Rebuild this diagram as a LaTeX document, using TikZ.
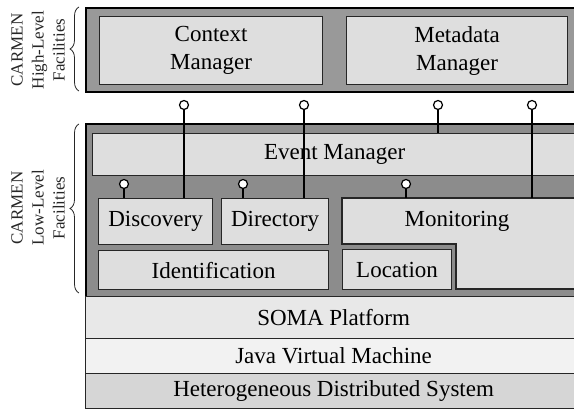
\documentclass[tikz,border=0pt]{standalone}
\usepackage{fontspec}
\setmainfont{Liberation Serif}
\usetikzlibrary{decorations.pathreplacing}

\definecolor{hiband}{gray}{0.60}
\definecolor{loband}{gray}{0.55}
\definecolor{boxfill}{gray}{0.87}
\definecolor{somafill}{gray}{0.91}
\definecolor{jvmfill}{gray}{0.95}
\definecolor{hdsfill}{gray}{0.84}
\definecolor{edge}{gray}{0.15}

\begin{document}
\begin{tikzpicture}[x=1pt,y=-1pt,
  band/.style={draw=black, line width=1.6pt, anchor=north west, inner sep=0pt},
  box/.style={draw=edge, line width=1.2pt, fill=boxfill, anchor=north west,
    inner sep=0pt, align=center, font={\fontsize{23}{28}\selectfont}},
  layer/.style={box, minimum width=496pt},
  lolli/.style={circle, draw=black, fill=white, line width=1.2pt,
    minimum size=9pt, inner sep=0pt},
  wire/.style={draw=black, line width=1.2pt},
  grp/.style={draw=black!85, line width=0.8pt,
    decoration={brace, amplitude=9pt}, decorate},
  grplabel/.style={rotate=90, align=center, text=black!85,
    font={\fontsize{17}{21}\selectfont}}
]
\useasboundingbox (0,0) rectangle (574,411);
\clip (0,0) rectangle (574,411);

% high-level facilities
\node[band, fill=hiband, minimum width=496pt, minimum height=84pt] (hi) at (85,7) {};
\node[box, minimum width=223pt, minimum height=68pt] (ctx) at (99,16) {Context\\Manager};
\node[box, minimum width=221pt, minimum height=68pt] (meta) at (346,16) {Metadata\\Manager};

% low-level facilities
\node[band, fill=loband, minimum width=496pt, minimum height=173pt] (lo) at (85,123) {};
\node[box, minimum width=484pt, minimum height=42pt] (evt) at (92,133) {Event Manager};
\node[box, minimum width=114pt, minimum height=46pt] (disc) at (98,198) {Discovery};
\node[box, minimum width=107pt, minimum height=46pt] (dir) at (221,198) {Directory};
\node[box, minimum width=230pt, minimum height=39pt] (ident) at (98,250) {Identification};
\node[box, minimum width=109pt, minimum height=40pt] (loc) at (342,249) {Location};

% monitoring wraps around location
\draw[draw=edge, line width=1.2pt, fill=boxfill]
  (342,198) -- (577,198) -- (577,289) -- (456,289) -- (456,244) -- (342,244) -- cycle;
\coordinate (mon) at (457,198);
\node[font={\fontsize{23}{28}\selectfont}, inner sep=0pt] (montext) at (457,221) {Monitoring};

% platform layers
\node[layer, fill=somafill, minimum height=42pt] (soma) at (85,296) {SOMA Platform};
\node[layer, fill=jvmfill, minimum height=35pt] (jvm) at (85,338) {Java Virtual Machine};
\node[layer, fill=hdsfill, minimum height=35pt] (hds) at (85,373) {Heterogeneous Distributed System};

% interfaces offered to the high-level facilities
\node[lolli] (i1) at (184,105) {};
\node[lolli] (i2) at (304,105) {};
\node[lolli] (i3) at (438,105) {};
\node[lolli] (i4) at (532,105) {};
\path[wire] (i1) -- (i1 |- disc.north);
\path[wire] (i2) -- (i2 |- dir.north);
\path[wire] (i3) -- (i3 |- evt.north);
\path[wire] (i4) -- (i4 |- mon);

% interfaces offered to the event manager
\node[lolli] (j1) at (124,184) {};
\node[lolli] (j2) at (243,184) {};
\node[lolli] (j3) at (406,184) {};
\path[wire] (j1) -- (j1 |- disc.north);
\path[wire] (j2) -- (j2 |- dir.north);
\path[wire] (j3) -- (j3 |- mon);

% group braces and labels
\coordinate (hb1) at (79,91);
\coordinate (hb2) at (79,7);
\coordinate (lb1) at (79,293);
\coordinate (lb2) at (79,124);
\draw[grp] (hb1) -- (hb2);
\draw[grp] (lb1) -- (lb2);
\node[grplabel] (hilabel) at (38,50) {CARMEN\\High-Level\\Facilities};
\node[grplabel] (lolabel) at (38,208) {CARMEN\\Low-Level\\Facilities};
\end{tikzpicture}
\end{document}
